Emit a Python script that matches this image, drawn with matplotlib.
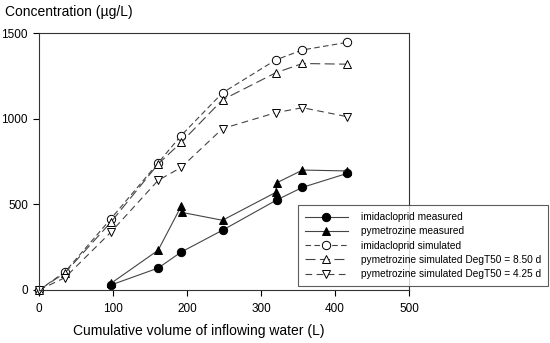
import matplotlib
matplotlib.use("Agg")
import matplotlib.pyplot as plt

plt.rcParams['font.family'] = ['Liberation Sans', 'DejaVu Sans']

# Data
imi_meas_x = [97, 161, 192, 248, 321, 356, 416]
imi_meas_y = [29, 128, 221, 349, 525, 599, 680]

pym_meas_x = [97, 161, 192, 193, 248, 320, 321, 356, 416]
pym_meas_y = [38, 232, 488, 453, 407, 570, 625, 700, 695]

imi_sim_x = [0, 35, 97, 161, 192, 248, 320, 356, 416]
imi_sim_y = [0, 105, 415, 742, 901, 1151, 1343, 1401, 1445]

pym85_x = [0, 35, 97, 161, 192, 248, 320, 356, 416]
pym85_y = [0, 100, 395, 735, 861, 1110, 1268, 1322, 1318]

pym425_x = [0, 35, 97, 161, 192, 248, 320, 356, 416]
pym425_y = [0, 72, 337, 640, 715, 942, 1035, 1064, 1012]

labels = ["imidacloprid measured", "pymetrozine measured", "imidacloprid simulated",
          "pymetrozine simulated DegT50 = 8.50 d", "pymetrozine simulated DegT50 = 4.25 d"]

W, H = 550, 343
fig = plt.figure(figsize=(W/100, H/100), dpi=100)
ax = fig.add_axes([39/W, 1-290/H, (409-39)/W, (290-33)/H])

lc = '#444444'
ms = 6
kw = dict(color=lc, lw=0.8, markeredgecolor='black', markeredgewidth=0.7, markersize=ms, clip_on=False)
ax.plot(imi_meas_x, imi_meas_y, '-', marker='o', markerfacecolor='black', label=labels[0], **kw)
ax.plot(pym_meas_x, pym_meas_y, '-', marker='^', markerfacecolor='black', label=labels[1], **kw)
ax.plot(imi_sim_x, imi_sim_y, marker='o', markerfacecolor='white', linestyle=(0, (5, 3)), label=labels[2], **kw)
ax.plot(pym85_x, pym85_y, marker='^', markerfacecolor='white', linestyle=(0, (9, 4)), label=labels[3], **kw)
ax.plot(pym425_x, pym425_y, marker='v', markerfacecolor='white', linestyle=(0, (6, 4)), label=labels[4], **kw)

ax.set_xlim(0, 500)
ax.set_ylim(0, 1500)
ax.set_xticks([0, 100, 200, 300, 400, 500])
ax.set_yticks([0, 500, 1000, 1500])
ax.tick_params(direction='out', length=4, width=0.8, labelsize=8.5)
ax.tick_params(axis='x', pad=5)
ax.tick_params(axis='y', pad=4)
for s in ax.spines.values():
    s.set_linewidth(0.8)
    s.set_color('#333333')

fig.text(5/W, 1-12/H, "Concentration (\u00b5g/L)", fontsize=10, va='center', ha='left')
fig.text(199/W, 1-331/H, "Cumulative volume of inflowing water (L)", fontsize=10, va='center', ha='center')

leg = fig.legend(loc='upper left', bbox_to_anchor=(298/W, 1-205/H), bbox_transform=fig.transFigure,
                 fontsize=7.3, frameon=True, fancybox=False, edgecolor='#333333',
                 handlelength=4.2, handletextpad=1.3, labelspacing=0.42, borderpad=0.7,
                 borderaxespad=0, markerscale=1.0)
leg.get_frame().set_linewidth(0.8)
leg.set_zorder(10)

fig.savefig("out.png", dpi=100)
